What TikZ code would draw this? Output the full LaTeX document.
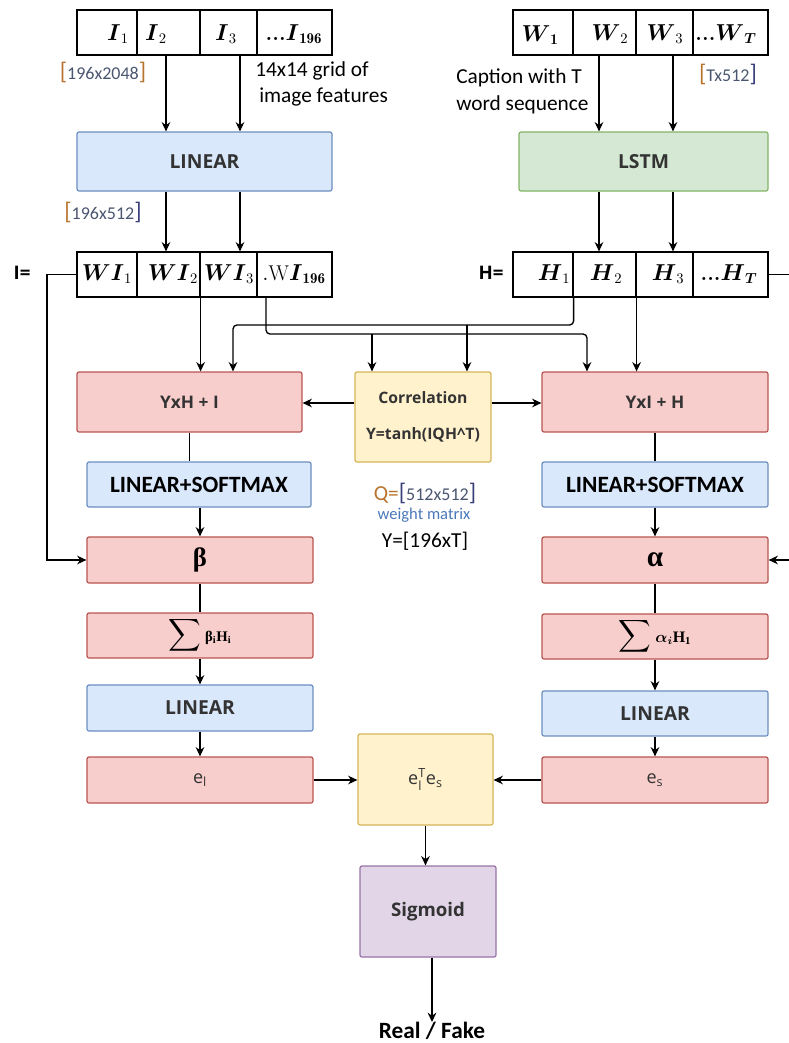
\documentclass[tikz,border=0pt]{standalone}
\usepackage{amsmath,amssymb}
\usepackage{fontspec}
\setsansfont{Open Sans}
\newfontfamily\calib{Carlito}
\newfontfamily\grk{Liberation Serif}
\usetikzlibrary{arrows.meta}

\definecolor{redfill}{HTML}{F8CECC}
\definecolor{redline}{HTML}{B85450}
\definecolor{bluefill}{HTML}{DAE8FC}
\definecolor{blueline}{HTML}{6C8EBF}
\definecolor{greenfill}{HTML}{D5E8D4}
\definecolor{greenline}{HTML}{82B366}
\definecolor{yellowfill}{HTML}{FFF2CC}
\definecolor{yellowline}{HTML}{D6B656}
\definecolor{purplefill}{HTML}{E1D5E7}
\definecolor{purpleline}{HTML}{9673A6}
\definecolor{boxtext}{HTML}{333333}
\definecolor{bracket}{HTML}{B8742E}
\definecolor{bracketb}{HTML}{3A3F7A}
\definecolor{dimtext}{HTML}{4A5670}
\definecolor{wmtext}{HTML}{4A78B8}

% square brackets of the dimension notes
\newcommand{\lb}[1]{{\fontsize{18}{18}\selectfont\color{#1}[}}
\newcommand{\rb}[1]{{\fontsize{18}{18}\selectfont\color{#1}]}}
% a node given by its corners: style, name, x1, y1, x2, y2, text
\newcommand{\bx}[7]{\node[#1, minimum width={(#5-#3)*0.75pt}, minimum height={(#6-#4)*0.75pt}]
  (#2) at ({(#3+#5)/2},{(#4+#6)/2}) {#7};}

\begin{document}
\begin{tikzpicture}[x=0.75pt,y=-0.75pt,
  box/.style={rounded corners=1.5pt, line width=0.9pt, inner sep=0pt,
    font=\sffamily\bfseries\fontsize{13}{15}\selectfont, text=boxtext},
  redbox/.style={box, draw=redline, fill=redfill},
  bluebox/.style={box, draw=blueline, fill=bluefill},
  greenbox/.style={box, draw=greenline, fill=greenfill},
  yellowbox/.style={box, draw=yellowline, fill=yellowfill},
  purplebox/.style={box, draw=purpleline, fill=purplefill},
  cell/.style={draw=black, line width=0.9pt, inner sep=0pt},
  celltxt/.style={inner sep=0pt, font=\fontsize{16}{18}\selectfont},
  note/.style={inner sep=0pt, font=\calib\fontsize{16}{20}\selectfont},
  dim/.style={inner sep=0pt, font=\calib\fontsize{13.5}{15}\selectfont, text=dimtext},
  softmax/.style={bluebox, font=\calib\bfseries\fontsize{17.5}{19}\selectfont, text=black},
  arr/.style={-{Stealth[length=7pt,width=6.5pt]}, line width=1pt},
  wire/.style={line width=1pt},
]
\useasboundingbox (0,0) rectangle (789,1043);
\clip (0,0) rectangle (789,1043);

% column and rail helpers
\coordinate (x47) at (47,0);
\coordinate (x166) at (166,0);
\coordinate (x233) at (233,0);
\coordinate (x240) at (240,0);
\coordinate (x266) at (266,0);
\coordinate (x372) at (372,0);
\coordinate (x467) at (467,0);
\coordinate (x587) at (587,0);
\coordinate (x599) at (599,0);
\coordinate (x673) at (673,0);
\coordinate (x800) at (800,0);
\coordinate (railA) at (0,325);
\coordinate (railB) at (0,334);
\coordinate (r403) at (0,403);

% image feature row
\bx{cell}{i1}{77}{10}{137}{55}{}
\bx{cell}{i2}{137}{10}{200}{55}{}
\bx{cell}{i3}{200}{10}{257}{55}{}
\bx{cell}{i196}{257}{10}{332}{55}{}
\node[celltxt] (ti1) at (118,34) {$\boldsymbol{I}_1$};
\node[celltxt] (ti2) at (156,34) {$\boldsymbol{I}_2$};
\node[celltxt] (ti3) at (226,34) {$\boldsymbol{I}_3$};
\node[celltxt] (ti196) at (294,34) {\textbf{...}$\boldsymbol{I}_{\mathbf{196}}$};

% word row
\bx{cell}{w1}{513}{10}{573}{55}{}
\bx{cell}{w2}{573}{10}{636}{55}{}
\bx{cell}{w3}{636}{10}{693}{55}{}
\bx{cell}{wT}{693}{10}{768}{55}{}
\node[celltxt] (tw1) at (540,35) {$\boldsymbol{W}_{\mathbf{1}}$};
\node[celltxt] (tw2) at (610,34) {$\boldsymbol{W}_2$};
\node[celltxt] (tw3) at (665,34) {$\boldsymbol{W}_3$};
\node[celltxt] (twT) at (726,34) {\textbf{...}$\boldsymbol{W}_{\boldsymbol{T}}$};

% annotations of the inputs
\node[dim] (d1) at (103,72) {\lb{bracket}196x2048\rb{bracket}};
\node[note, align=left, anchor=west] (grid) at (255,84) {14x14 grid of\\ \hspace*{3pt}image features};
\node[note, align=left, anchor=west] (cap) at (456,91) {Caption with T\\word sequence};
\node[dim] (d2) at (728,74) {\lb{bracket}Tx512\rb{bracketb}};
\node[dim] (d3) at (103,212) {\lb{bracket}196x512\rb{bracketb}};

% projection and encoder
\bx{bluebox}{lin0}{77}{132}{332}{191}{\fontsize{14.5}{16}\selectfont LINEAR}
\bx{greenbox}{lstm}{519}{132}{768}{191}{\fontsize{14.5}{16}\selectfont LSTM}

% projected features and hidden states
\bx{cell}{wi1}{77}{252}{137}{297}{}
\bx{cell}{wi2}{137}{252}{200}{297}{}
\bx{cell}{wi3}{200}{252}{257}{297}{}
\bx{cell}{wi196}{257}{252}{332}{297}{}
\node[celltxt] (twi1) at (107,274) {$\boldsymbol{WI}_1$};
\node[celltxt] (twi2) at (173,274) {$\boldsymbol{WI}_2$};
\node[celltxt] (twi3) at (229,274) {$\boldsymbol{WI}_3$};
\node[celltxt] (twi196) at (294,274) {$.\mathrm{W}\boldsymbol{I}_{\mathbf{196}}$};
\node[inner sep=0pt, font=\sffamily\bfseries\fontsize{14}{16}\selectfont] (ieq) at (22,273) {I=};

\bx{cell}{h1}{513}{252}{573}{297}{}
\bx{cell}{h2}{573}{252}{636}{297}{}
\bx{cell}{h3}{636}{252}{693}{297}{}
\bx{cell}{hT}{693}{252}{768}{297}{}
\node[celltxt] (th1) at (554,274) {$\boldsymbol{H}_1$};
\node[celltxt] (th2) at (606,274) {$\boldsymbol{H}_2$};
\node[celltxt] (th3) at (668,274) {$\boldsymbol{H}_3$};
\node[celltxt] (thT) at (729,274) {\textbf{...}$\boldsymbol{H}_{\boldsymbol{T}}$};
\node[inner sep=0pt, font=\sffamily\bfseries\fontsize{14}{16}\selectfont] (heq) at (491,273) {H=};

% co-attention
\bx{redbox}{yhi}{77}{372}{302}{432}{YxH + I}
\bx{yellowbox, align=center, font=\sffamily\bfseries\fontsize{11.8}{27.5}\selectfont}{corr}{355}{372}{491}{462}{Correlation\\Y=tanh(IQH\textasciicircum T)}
\bx{redbox}{yih}{542}{372}{768}{432}{YxI + H}

\node[inner sep=0pt, font=\calib\fontsize{16}{18}\selectfont] (qdim) at (425,493)
  {{\color{bracket}Q=}\lb{bracketb}{\fontsize{13.5}{15}\selectfont\color{dimtext}512x512}\rb{bracketb}};
\node[inner sep=0pt, font=\calib\fontsize{12.4}{14}\selectfont, text=wmtext] (wm) at (424,515) {weight matrix};
\node[note] (ydim) at (425,541) {Y=[196xT]};

\bx{softmax}{ls1}{87}{462}{311}{507}{LINEAR+SOFTMAX}
\bx{softmax}{ls2}{542}{462}{768}{507}{LINEAR+SOFTMAX}

\bx{redbox, text=black}{beta}{87}{537}{313}{583}{\grk\bfseries\fontsize{20}{22}\selectfont β}
\bx{redbox, text=black}{alpha}{542}{537}{768}{583}{\grk\bfseries\fontsize{22}{22}\selectfont α}

\bx{redbox, text=black, font=\fontsize{17}{19}\selectfont}{sum1}{87}{613}{313}{658}
  {$\displaystyle\sum$\,{\grk\bfseries\fontsize{11}{11}\selectfont β\textsubscript{i}H\textsubscript{i}}}
\bx{redbox, text=black, font=\fontsize{17}{19}\selectfont}{sum2}{542}{614}{768}{659}
  {$\displaystyle\sum$\,{\fontsize{12}{12}\selectfont$\boldsymbol{\alpha}_{\boldsymbol{i}}$}{\grk\bfseries\fontsize{12}{12}\selectfont H\textsubscript{1}}}

\bx{bluebox}{lin1}{87}{685}{313}{731}{\fontsize{14.5}{16}\selectfont LINEAR}
\bx{bluebox}{lin2}{542}{691}{768}{736}{\fontsize{14.5}{16}\selectfont LINEAR}

\bx{redbox, font=\sffamily\fontsize{13.5}{15}\selectfont}{el}{87}{757}{313}{803}{e\textsubscript{l}}
\bx{redbox, font=\sffamily\fontsize{13.5}{15}\selectfont}{es}{542}{757}{768}{803}{e\textsubscript{s}}
\bx{yellowbox, font=\sffamily\fontsize{13.5}{15}\selectfont}{prod}{358}{734}{493}{825}{e$_{\text{l}}^{\text{T}}$e\textsubscript{s}}

\bx{purplebox, font=\sffamily\bfseries\fontsize{14}{16}\selectfont}{sig}{360}{866}{496}{957}{Sigmoid}
\node[inner sep=0pt, font=\calib\bfseries\fontsize{17.5}{19}\selectfont] (rf) at (432,1031) {Real / Fake};

% input arrows
\draw[arr] (x166 |- i2.south) -- (x166 |- lin0.north);
\draw[arr] (x240 |- i3.south) -- (x240 |- lin0.north);
\draw[arr] (x599 |- w2.south) -- (x599 |- lstm.north);
\draw[arr] (x673 |- w3.south) -- (x673 |- lstm.north);
\draw[arr] (x166 |- lin0.south) -- (x166 |- wi2.north);
\draw[arr] (x240 |- lin0.south) -- (x240 |- wi3.north);
\draw[arr] (x599 |- lstm.south) -- (x599 |- h2.north);
\draw[arr] (x673 |- lstm.south) -- (x673 |- h3.north);

% feature and hidden-state routing
\draw[arr] (wi2.south east) -- (wi2.south east |- yhi.north);
\draw[arr, rounded corners=3pt] (h1.south east) -- (h1.south east |- railA) -- (x233 |- railA) -- (x233 |- yhi.north);
\draw[arr] (x467 |- railA) -- (x467 |- corr.north);
\draw[arr, rounded corners=3pt] (x266 |- wi196.south) -- (x266 |- railB) -- (x587 |- railB) -- (x587 |- yih.north);
\draw[arr] (x372 |- railB) -- (x372 |- corr.north);
\draw[arr] (h2.south east) -- (h2.south east |- yih.north);

% skip connections to the attention weights
\draw[arr] (wi1.west) -- (x47 |- wi1.west) |- (beta.west);
\draw[arr] (hT.east) -- (x800 |- hT.east) |- (alpha.east);

% correlation outputs
\draw[arr] (corr.west |- r403) -- (yhi.east |- r403);
\draw[arr] (corr.east |- r403) -- (yih.west |- r403);

% left branch
\draw[wire] (yhi.south) -- (yhi.south |- ls1.north);
\draw[arr] (ls1.south -| beta.north) -- (beta.north);
\draw[wire] (beta.south) -- (sum1.north);
\draw[arr] (sum1.south) -- (lin1.north);
\draw[arr] (lin1.south) -- (el.north);

% right branch
\draw[wire] (yih.south) -- (ls2.north);
\draw[arr] (ls2.south) -- (alpha.north);
\draw[wire] (alpha.south) -- (sum2.north);
\draw[arr] (sum2.south) -- (lin2.north);
\draw[arr] (lin2.south) -- (es.north);

% similarity and output
\draw[arr] (el.east) -- (el.east -| prod.west);
\draw[arr] (es.west) -- (es.west -| prod.east);
\draw[arr] (prod.south) -- (prod.south |- sig.north);
\draw[arr] (sig.south -| rf.north) -- (rf.north);
\end{tikzpicture}
\end{document}
